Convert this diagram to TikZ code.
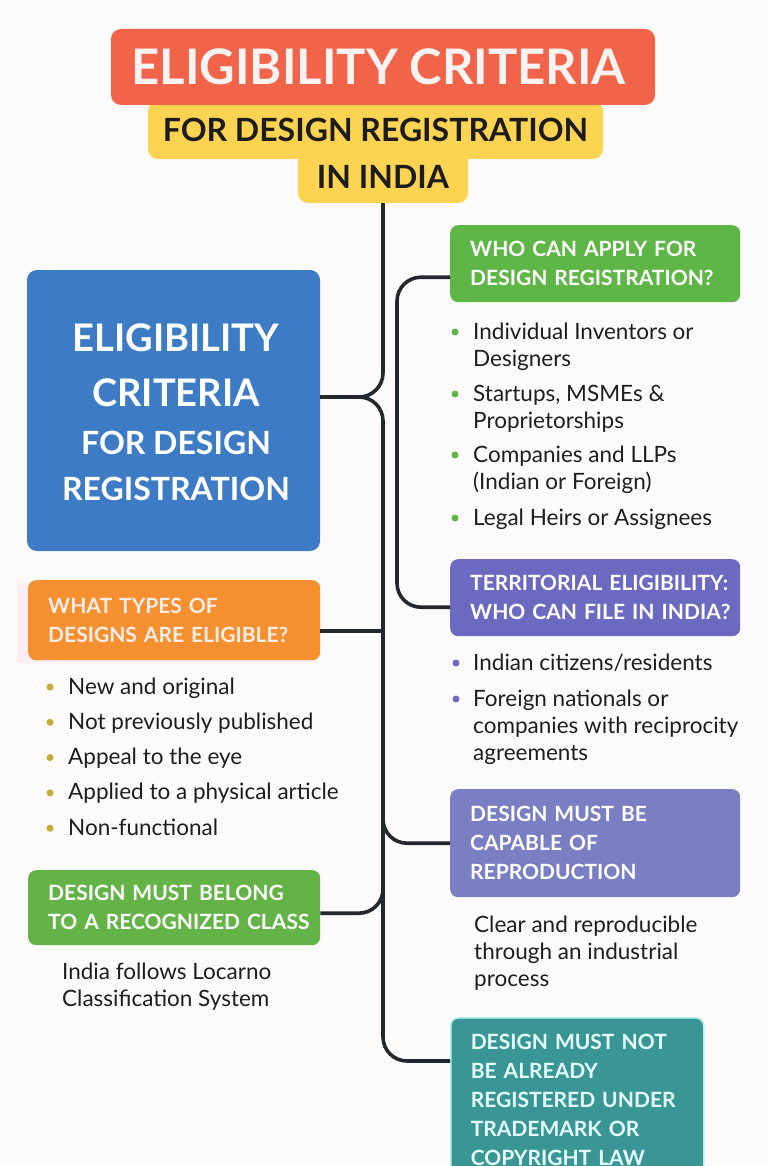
\documentclass[tikz,border=0pt]{standalone}
\usepackage{fontspec}
\setmainfont{Lato}
\usetikzlibrary{calc}
\definecolor{bg}{HTML}{FCFBF9}
\definecolor{titlered}{HTML}{F2644A}
\definecolor{titleyel}{HTML}{FDD451}
\definecolor{boxblue}{HTML}{3D7CC5}
\definecolor{boxgreen}{HTML}{5DB646}
\definecolor{boxgreenb}{HTML}{63B346}
\definecolor{boxpurple}{HTML}{6C69C0}
\definecolor{boxlav}{HTML}{7A7EC2}
\definecolor{boxorange}{HTML}{F4902F}
\definecolor{boxteal}{HTML}{3A9595}
\definecolor{tealedge}{HTML}{B9F3F0}
\definecolor{tealtext}{HTML}{E4FFFD}
\definecolor{orangetext}{HTML}{FFEDEA}
\definecolor{pinkhalo}{HTML}{FDEEF4}
\definecolor{linec}{HTML}{23272E}
\definecolor{bodytext}{HTML}{1E1E1E}
\definecolor{dotolive}{HTML}{C9A93A}
\definecolor{titledark}{HTML}{1C1C1C}
\newcommand\hl[1]{\mbox{#1}}
\begin{document}
\begin{tikzpicture}[x=1pt,y=-1pt,
  conn/.style={draw=linec, line width=3.6pt, rounded corners=24pt},
  hdr/.style={anchor=north west, rounded corners=8pt, inner xsep=20pt, inner ysep=0pt,
    align=left, font=\bfseries\fontsize{21}{29}\selectfont, text=white},
  body/.style={anchor=base west, inner sep=0pt, align=left, text=bodytext,
    font=\fontsize{22.5}{27}\selectfont},
  dot/.style={circle, inner sep=0pt, minimum size=7pt},
  bluetxt/.style={anchor=base, inner sep=0pt, text=white}
]
\useasboundingbox (0,0) rectangle (768,1166);
\clip (0,0) rectangle (768,1166);
\fill[bg] (0,0) rectangle (768,1166);

% ---------- title ----------
\node[fill=titleyel, rounded corners=10pt, minimum width=455pt, minimum height=58pt, inner sep=0pt,
  text=titledark, font=\bfseries\fontsize{32}{32}\selectfont] (sub1) at (375.5,130) {FOR DESIGN REGISTRATION};
\node[fill=titleyel, rounded corners=10pt, minimum width=170pt, minimum height=53pt, inner sep=0pt,
  text=titledark, font=\bfseries\fontsize{32}{32}\selectfont] (sub2) at (383,176.5) {IN INDIA};
\node[fill=titlered, rounded corners=10pt, minimum width=544pt, minimum height=76pt, inner sep=0pt,
  text={rgb,255:red,251;green,243;blue,241}, font=\bfseries\fontsize{49}{49}\selectfont] (title) at (383,67) {ELIGIBILITY CRITERIA\hspace*{9pt}};

% ---------- left column ----------
\node[fill=boxblue, rounded corners=10pt, minimum width=293pt, minimum height=281pt, inner sep=0pt] (blue) at (173.5,410.5) {};
\node[bluetxt, font=\bfseries\fontsize{38}{38}\selectfont] (blueT1) at (176,351.5) {ELIGIBILITY};
\node[bluetxt, font=\bfseries\fontsize{38}{38}\selectfont] (blueT2) at (176,406) {CRITERIA};
\node[bluetxt, font=\bfseries\fontsize{32}{32}\selectfont] (blueT3) at (176,454) {FOR DESIGN};
\node[bluetxt, font=\bfseries\fontsize{32}{32}\selectfont] (blueT4) at (176,500) {REGISTRATION};

\fill[pinkhalo] (17,583) rectangle (318,663);
\node[hdr, fill=boxorange, text=orangetext, text width=252pt, minimum height=80pt] (orange) at (28,580)
  {\hl{WHAT TYPES OF}\\\hl{DESIGNS ARE ELIGIBLE?}};

\foreach \t [count=\i] in {New and original, Not previously published, Appeal to the eye,
    Applied to a physical article, Non-functional} {
  \pgfmathsetmacro{\yy}{686+35.3*(\i-1)}
  \node[dot, fill=dotolive] (od\i) at (50,\yy+1) {};
  \node[body] (ot\i) at (68,\yy+8) {\t};
}

\node[hdr, fill=boxgreenb, text width=252pt, minimum height=75pt] (green2) at (28,870)
  {\hl{DESIGN MUST BELONG}\\\hl{TO A RECOGNIZED CLASS}};
% multi-line body nodes: base = last line baseline
\node[body] (locarno) at (62,1006) {India follows Locarno\\Classification System};

% ---------- right column ----------
\node[hdr, fill=boxgreen, text width=250pt, minimum height=77pt] (green1) at (450,225)
  {\hl{WHO CAN APPLY FOR}\\\hl{DESIGN REGISTRATION?}};
\node[dot, fill=boxgreen] (gd1) at (455,332) {};
\node[body] (gt1) at (473,366) {Individual Inventors or\\Designers};
\node[dot, fill=boxgreen] (gd2) at (455,394) {};
\node[body] (gt2) at (473,428) {Startups, MSMEs \&\\Proprietorships};
\node[dot, fill=boxgreen] (gd3) at (455,455) {};
\node[body] (gt3) at (473,489) {Companies and LLPs\\(Indian or Foreign)};
\node[dot, fill=boxgreen] (gd4) at (455,518) {};
\node[body] (gt4) at (473,525) {Legal Heirs or Assignees};

\node[hdr, fill=boxpurple, text width=250pt, minimum height=77pt] (purple1) at (450,559)
  {\hl{TERRITORIAL ELIGIBILITY:}\\\hl{WHO CAN FILE IN INDIA?}};
\node[dot, fill=boxpurple] (pd1) at (456,663) {};
\node[body] (pt1) at (473,670) {Indian citizens/residents};
\node[dot, fill=boxpurple] (pd2) at (456,699) {};
\node[body] (pt2) at (473,760) {Foreign nationals or\\companies with reciprocity\\agreements};

\node[hdr, fill=boxlav, text width=250pt, minimum height=108pt] (p2) at (450,789)
  {\hl{DESIGN MUST BE}\\\hl{CAPABLE OF}\\\hl{REPRODUCTION}};
\node[body] (clear) at (474,986) {Clear and reproducible\\through an industrial\\process};

\node[hdr, fill=boxteal, draw=tealedge, line width=1.5pt, text=tealtext, text width=213pt, minimum height=164pt] (teal) at (450,1017)
  {\hl{DESIGN MUST NOT}\\\hl{BE ALREADY}\\\hl{REGISTERED UNDER}\\\hl{TRADEMARK OR}\\\hl{COPYRIGHT LAW}};

% ---------- connectors ----------
\coordinate (blueIn) at ($(blue.east)+(0,-13.5)$);
\coordinate (tealIn) at ($(teal.north west)+(0,44)$);
\coordinate (orIn) at ($(orange.east)+(0,11)$);
\coordinate (g2In) at ($(green2.east)+(0,5.5)$);
\coordinate (g1In) at ($(green1.west)+(0,13.5)$);
\coordinate (pu1In) at ($(purple1.west)+(0,9.5)$);
\coordinate (brx) at ($(sub2.south)+(14,0)$);

\draw[conn] (sub2.south) |- (blueIn);
\draw[conn] (blueIn) -| (sub2.south |- tealIn) -- (tealIn);
\draw[conn] (orIn) -- (orIn -| sub2.south);
\draw[conn] (g2In) -| ($(sub2.south |- g2In)+(0,-40)$);
\draw[conn] ($(sub2.south |- p2.west)+(0,-40)$) |- (p2.west);
\draw[conn] (g1In) -| (brx |- pu1In) -- (pu1In);
\end{tikzpicture}
\end{document}
